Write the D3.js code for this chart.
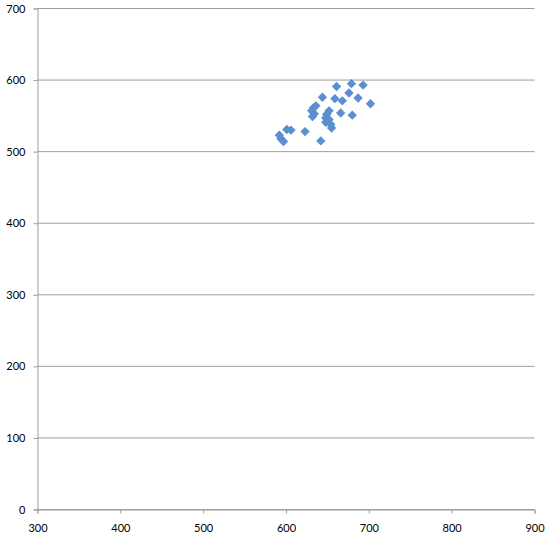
<!DOCTYPE html>
<html>
<head>
<meta charset="utf-8">
<script src="https://cdn.jsdelivr.net/npm/d3@7"></script>
<style>
  body { margin: 0; background: #fff; }
  svg { display: block; }
  .tick text { font-family: Lato, "Open Sans", sans-serif; font-size: 11px; fill: #000; }
</style>
</head>
<body>
<script>
// Data
const xValues = [592, 594, 597, 601, 606, 623, 642, 633, 636, 631, 634, 632, 652, 649, 648, 666, 680, 648, 654, 655, 652, 644, 659, 668, 687, 702, 661, 679, 693, 676];
const yValues = [523, 518, 514, 531, 530, 528, 515, 561, 564, 557, 553, 549, 557, 552, 547, 554, 551, 541, 538, 533, 545, 576, 574, 571, 575, 567, 591, 595, 593, 582];
const xTicks = [300, 400, 500, 600, 700, 800, 900];
const yTicks = [0, 100, 200, 300, 400, 500, 600, 700];

const width = 547;
const height = 543;

const points = xValues.map((x, i) => ({ x: x, y: yValues[i] }));

const svg = d3.select('body')
    .append('svg')
    .attr('width', width)
    .attr('height', height);

// Scales
const xScale = d3.scaleLinear().domain([300, 900]).range([37.5, 534.5]);
const yScale = d3.scaleLinear().domain([0, 700]).range([509.5, 8.5]);

// Horizontal gridlines
svg.append('g')
    .selectAll('line')
    .data(yTicks)
    .enter()
    .append('line')
    .attr('x1', xScale(300))
    .attr('x2', xScale(900))
    .attr('y1', d => yScale(d))
    .attr('y2', d => yScale(d))
    .attr('stroke', '#9d9d9d')
    .attr('stroke-width', 1);

// Axes
const xAxis = d3.axisBottom(xScale).tickValues(xTicks).tickSize(4).tickPadding(11);
const yAxis = d3.axisLeft(yScale).tickValues(yTicks).tickSize(4).tickPadding(8);

const gx = svg.append('g')
    .attr('transform', `translate(0, ${yScale(0)})`)
    .call(xAxis);

const gy = svg.append('g')
    .attr('transform', `translate(${xScale(300)}, 0)`)
    .call(yAxis);

[gx, gy].forEach(g => {
    g.select('.domain').attr('stroke', '#9d9d9d');
    g.selectAll('.tick line').attr('stroke', '#9d9d9d');
});

// Diamond markers
const diamond = d3.symbol().type(d3.symbolSquare).size(44);

svg.append('g')
    .selectAll('path')
    .data(points)
    .enter()
    .append('path')
    .attr('d', diamond)
    .attr('transform', d => `translate(${xScale(d.x)}, ${yScale(d.y)}) rotate(45)`)
    .attr('fill', '#5b8fcf');
</script>
</body>
</html>
